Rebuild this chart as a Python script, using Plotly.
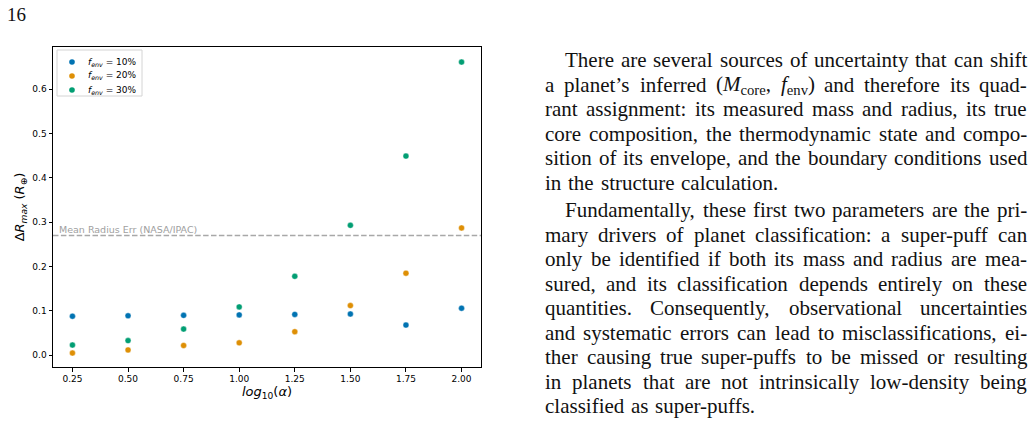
import plotly.graph_objects as go

# ---------------- data ----------------
log_alpha = [0.25, 0.50, 0.75, 1.00, 1.25, 1.50, 1.75, 2.00]
dr_env10 = [0.088, 0.089, 0.090, 0.091, 0.092, 0.093, 0.068, 0.106]
dr_env20 = [0.005, 0.012, 0.022, 0.028, 0.053, 0.112, 0.185, 0.287]
dr_env30 = [0.023, 0.033, 0.059, 0.109, 0.178, 0.293, 0.449, 0.661]
series_names = [
    "<i>f<sub>env</sub></i> = 10%",
    "<i>f<sub>env</sub></i> = 20%",
    "<i>f<sub>env</sub></i> = 30%",
]
x_tick_vals = [0.25, 0.50, 0.75, 1.00, 1.25, 1.50, 1.75, 2.00]
x_tick_text = ["0.25", "0.50", "0.75", "1.00", "1.25", "1.50", "1.75", "2.00"]
y_tick_vals = [0.0, 0.1, 0.2, 0.3, 0.4, 0.5, 0.6]
y_tick_text = ["0.0", "0.1", "0.2", "0.3", "0.4", "0.5", "0.6"]
mean_radius_err = 0.27
mean_radius_label = "Mean Radius Err (NASA/IPAC)"
page_number = "16"

# page text: (text, indent, justified)
page_lines = [
    ("There are several sources of uncertainty that can shift", True, True),
    ("a planet’s inferred (<i>M</i><sub>core</sub>, <i>f</i><sub>env</sub>) and therefore its quad-", False, True),
    ("rant assignment: its measured mass and radius, its true", False, True),
    ("core composition, the thermodynamic state and compo-", False, True),
    ("sition of its envelope, and the boundary conditions used", False, True),
    ("in the structure calculation.", False, False),
    ("Fundamentally, these first two parameters are the pri-", True, True),
    ("mary drivers of planet classification: a super-puff can", False, True),
    ("only be identified if both its mass and radius are mea-", False, True),
    ("sured, and its classification depends entirely on these", False, True),
    ("quantities. Consequently, observational uncertainties", False, True),
    ("and systematic errors can lead to misclassifications, ei-", False, True),
    ("ther causing true super-puffs to be missed or resulting", False, True),
    ("in planets that are not intrinsically low-density being", False, True),
    ("classified as super-puffs.", False, False),
]
page_line_centers = [60, 84.5, 109, 133.5, 158, 182.5,
                     210, 234.5, 259, 283.5, 308, 332.5, 357, 381.5, 406]

colors = ["#0173b2", "#de8f05", "#029e73"]

# ---------------- layout geometry ----------------
W, H = 1035, 429
ML, MR, MT, MB = 53, 554, 47, 62
PW, PH = W - ML - MR, H - MT - MB


def px_to_paper_x(px):
    return (px - ML) / PW


def px_to_paper_y(py):
    return (H - MB - py) / PH


fig = go.Figure()
for name, ys, c in zip(series_names, [dr_env10, dr_env20, dr_env30], colors):
    fig.add_trace(go.Scatter(
        x=log_alpha, y=ys, mode="markers", name=name, showlegend=False,
        marker=dict(color=c, size=6, line=dict(color="white", width=0.4)),
    ))

fig.add_shape(type="line", xref="paper", x0=0, x1=1, yref="y",
              y0=mean_radius_err, y1=mean_radius_err,
              line=dict(color="#a8a8a8", width=1.5, dash="5.5px,2.4px"), layer="below")
fig.add_annotation(x=0.182, y=mean_radius_err, xref="x", yref="y", text=mean_radius_label,
                   showarrow=False, xanchor="left", yanchor="bottom", yshift=-1,
                   font=dict(family="DejaVu Sans", size=9.5, color="#a0a0a0"))

# ---------------- compact legend (matplotlib style) ----------------
LEG_L, LEG_T, LEG_R, LEG_B = 57, 50, 142, 96
LEG_ROWS = [62, 76, 90]
fig.add_shape(type="rect", xref="paper", yref="paper",
              x0=px_to_paper_x(LEG_L), x1=px_to_paper_x(LEG_R),
              y0=px_to_paper_y(LEG_B), y1=px_to_paper_y(LEG_T),
              line=dict(color="#d4d4d4", width=1), fillcolor="rgba(255,255,255,0.8)")
for name, c, ry in zip(series_names, colors, LEG_ROWS):
    fig.add_shape(type="circle", xref="paper", yref="paper",
                  xsizemode="pixel", ysizemode="pixel",
                  xanchor=px_to_paper_x(72), yanchor=px_to_paper_y(ry),
                  x0=-2.8, x1=2.8, y0=-2.8, y1=2.8,
                  fillcolor=c, line=dict(color=c, width=0))
    fig.add_annotation(x=px_to_paper_x(86), y=px_to_paper_y(ry), xref="paper", yref="paper",
                       text=name, showarrow=False, xanchor="left", yanchor="middle",
                       font=dict(family="DejaVu Sans", size=9, color="black"))

# ---------------- page text (justified) ----------------
TIMES = {
    'a': 444, 'b': 500, 'c': 444, 'd': 500, 'e': 444, 'f': 333, 'g': 500, 'h': 500, 'i': 278,
    'j': 278, 'k': 500, 'l': 278, 'm': 778, 'n': 500, 'o': 500, 'p': 500, 'q': 500, 'r': 333,
    's': 389, 't': 278, 'u': 500, 'v': 500, 'w': 722, 'x': 500, 'y': 500, 'z': 444,
    'A': 722, 'B': 667, 'C': 667, 'D': 722, 'E': 611, 'F': 556, 'G': 722, 'H': 722, 'I': 333,
    'J': 389, 'K': 722, 'L': 611, 'M': 889, 'N': 722, 'O': 722, 'P': 556, 'Q': 722, 'R': 667,
    'S': 556, 'T': 611, 'U': 722, 'V': 722, 'W': 944, 'X': 722, 'Y': 722, 'Z': 611,
    ' ': 250, '.': 250, ',': 250, ':': 278, ';': 278, '-': 333, '’': 333, "'": 180,
    '(': 333, ')': 333, '%': 833,
}
ITALIC = {'M': 833, 'f': 278}


def token_width(tok):
    w = 0.0
    i = 0
    sub = False
    ital = False
    while i < len(tok):
        if tok[i] == '<':
            j = tok.index('>', i)
            tag = tok[i + 1:j]
            if tag == 'sub':
                sub = True
            elif tag == '/sub':
                sub = False
            elif tag == 'i':
                ital = True
            elif tag == '/i':
                ital = False
            i = j + 1
            continue
        ch = tok[i]
        cw = (ITALIC.get(ch) if ital and ch in ITALIC else None) or TIMES.get(ch, 500)
        w += cw * (0.7 if sub else 1.0)
        i += 1
    return w / 1000.0


FS = 21
TEXT_L, TEXT_INDENT, TEXT_R = 545, 565, 1027
PAD = 2  # annotation box pad

for (line, indent, just), cy in zip(page_lines, page_line_centers):
    toks = line.split(" ")
    widths = [token_width(t) * FS for t in toks]
    left = TEXT_INDENT if indent else TEXT_L
    if just and len(toks) > 1:
        gap = (TEXT_R - left - sum(widths)) / (len(toks) - 1)
    else:
        gap = 0.25 * FS * 1.3
    x = left
    for t, w in zip(toks, widths):
        fig.add_annotation(x=px_to_paper_x(x - PAD), y=px_to_paper_y(cy),
                           xref="paper", yref="paper", text=t, showarrow=False,
                           xanchor="left", yanchor="middle",
                           font=dict(family="Liberation Serif", size=FS, color="#111111"))
        x += w + gap

fig.add_annotation(x=px_to_paper_x(7 - PAD), y=px_to_paper_y(14),
                   xref="paper", yref="paper", text=page_number, showarrow=False,
                   xanchor="left", yanchor="middle",
                   font=dict(family="Liberation Serif", size=19, color="#111111"))

axis_common = dict(showline=True, mirror=True, linecolor="black", linewidth=1,
                   ticks="outside", ticklen=3.5, tickwidth=0.8, tickcolor="black",
                   showgrid=False, zeroline=False,
                   tickfont=dict(family="DejaVu Sans", size=9, color="black"))

fig.update_xaxes(range=[0.1625, 2.0875], tickvals=x_tick_vals, ticktext=x_tick_text,
                 title=dict(text="<i>log</i><sub>10</sub>(<i>α</i>)", standoff=3,
                            font=dict(family="DejaVu Sans", size=13, color="black")),
                 automargin=False, **axis_common)
fig.update_yaxes(range=[-0.0265, 0.695], tickvals=y_tick_vals, ticktext=y_tick_text,
                 title=dict(text="Δ<i>R<sub>max</sub></i> (<i>R</i><sub>⊕</sub>)", standoff=4,
                            font=dict(family="DejaVu Sans", size=13, color="black")),
                 automargin=False, **axis_common)

fig.update_layout(
    width=W, height=H,
    margin=dict(l=ML, r=MR, t=MT, b=MB, autoexpand=False),
    paper_bgcolor="white", plot_bgcolor="white",
    font=dict(family="DejaVu Sans", color="black"),
    showlegend=False,
)

fig.write_html("out.html")
